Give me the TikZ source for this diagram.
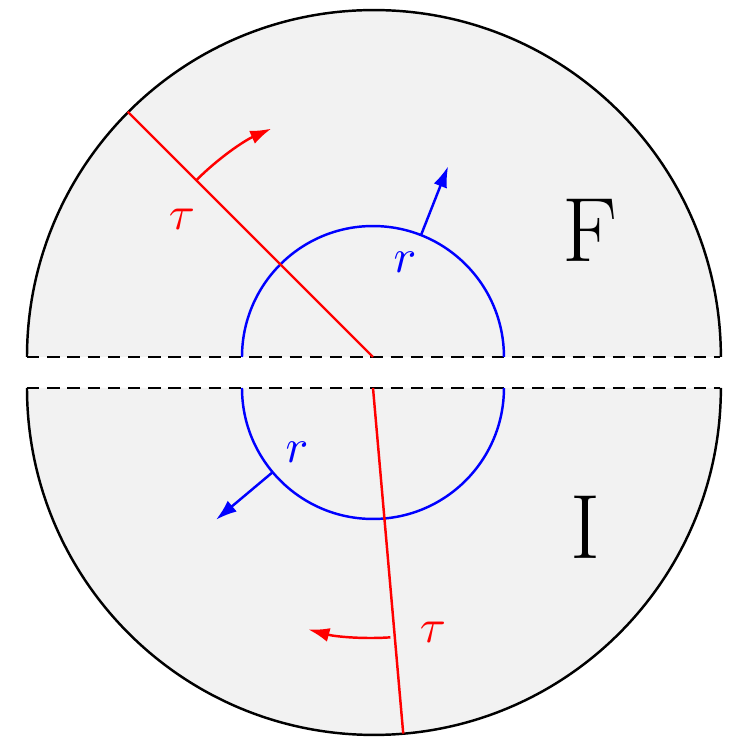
\documentclass[tikz,border=0pt]{standalone}
\usetikzlibrary{calc,arrows.meta}
\begin{document}
\begin{tikzpicture}[x=0.02cm,y=0.02cm,
  bnd/.style={black,line width=1.4pt},
  dsh/.style={black,line width=1.4pt,dashed,dash pattern=on 7pt off 4.5pt},
  blu/.style={blue,line width=1.4pt},
  rd/.style={red,line width=1.4pt},
  arr/.style={-{Latex[length=12pt,width=8pt]}},
  lbl/.style={scale=2.7},
  big/.style={font=\fontsize{52}{52}\selectfont}]
\useasboundingbox (0,0) rectangle (747,747);
\coordinate (cu) at (373,390);
\coordinate (cl) at (373,359);
% fills
\fill[black!5] (27,390) arc[start angle=180,end angle=0,radius=6.94cm] -- cycle;
\fill[black!5] (27,359) arc[start angle=180,end angle=360,radius=6.94cm] -- cycle;
\draw[bnd] (27,390) arc[start angle=180,end angle=0,radius=6.94cm];
\draw[bnd] (27,359) arc[start angle=180,end angle=360,radius=6.94cm];
\draw[dsh] (27,390) -- (720,390);
\draw[dsh] (27,359) -- (720,359);
% blue circles
\draw[blu] (242,390) arc[start angle=180,end angle=0,radius=2.62cm];
\draw[blu] (242,359) arc[start angle=180,end angle=360,radius=2.62cm];
% red lines
\draw[rd] (cu) -- ($(cu)+(135:6.94cm)$);
\draw[rd] (cl) -- ($(cl)+(-85:6.94cm)$);
% red arrows
\draw[rd,arr] ($(cu)+(135:5cm)$) arc[start angle=135,end angle=114,radius=5cm];
\draw[rd,arr] ($(cl)+(-86:5cm)$) arc[start angle=-86,end angle=-105,radius=5cm];
% blue arrows
\draw[blu,arr] ($(cu)+(68.5:2.62cm)$) -- ($(cu)+(68.5:4.1cm)$);
\draw[blu,arr] ($(cl)+(-140:2.62cm)$) -- ($(cl)+(-140:4.1cm)$);
% labels
\node[lbl,red] (t1) at (182,528) {$\tau$};
\node[lbl,red] (t2) at (433,115) {$\tau$};
\node[lbl,blue] (r1) at (405,485) {$r$};
\node[lbl,blue] (r2) at (297,295) {$r$};
\node[big] (F) at (590,517) {F};
\node[big] (I) at (585,220) {I};
\end{tikzpicture}
\end{document}
